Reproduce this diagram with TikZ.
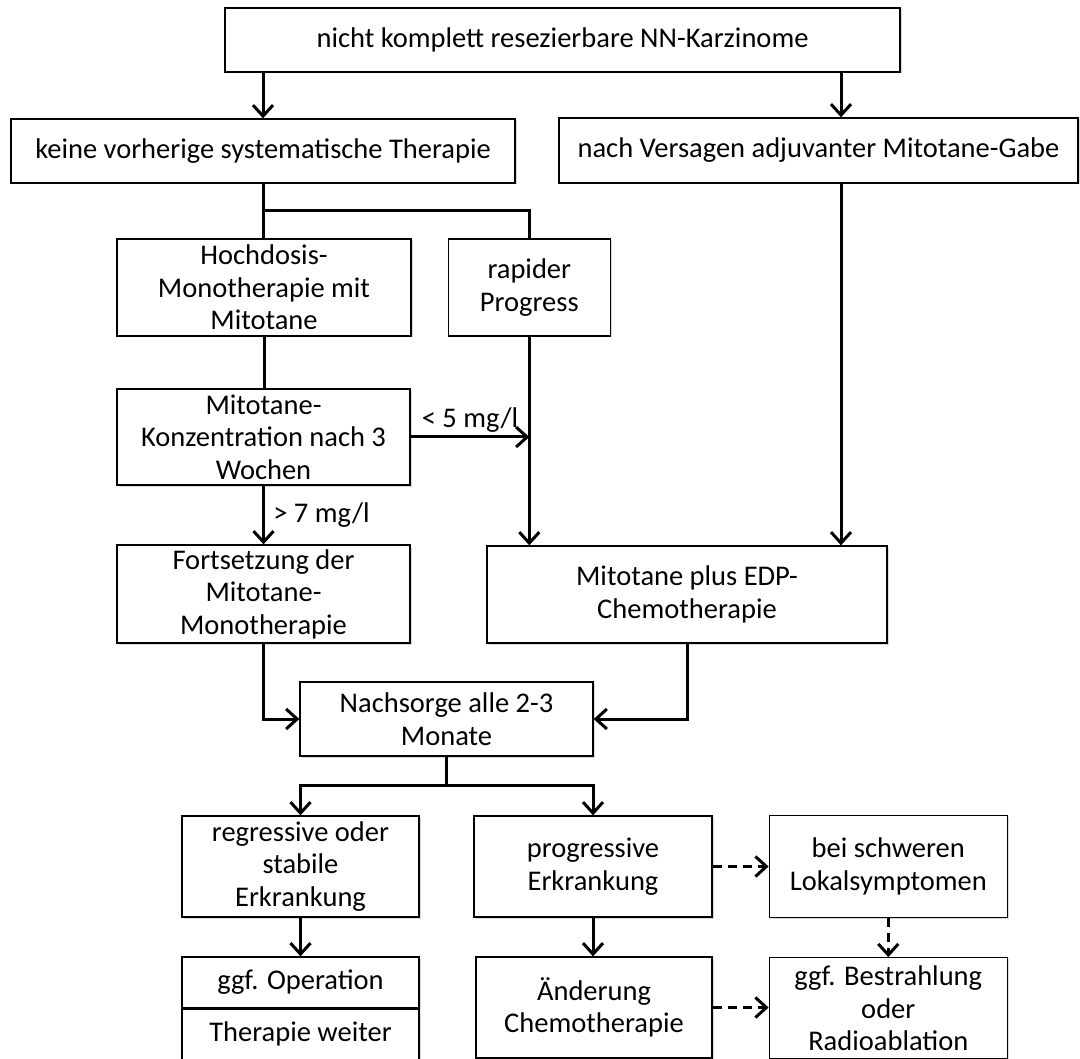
\documentclass[tikz,border=0pt]{standalone}
\usepackage{fontspec}
\setmainfont{Carlito}
\usetikzlibrary{positioning,arrows.meta,shadows}

\begin{document}
\begin{tikzpicture}
    [x=1pt,y=-1pt,font=\fontsize{28.5}{32.5}\selectfont,
     box/.style={rectangle,draw,line width=1.3pt,fill=white,align=center,inner sep=0pt,
        drop shadow={shadow xshift=1.5pt,shadow yshift=-1.5pt,opacity=0.3}},
     conn/.style={line width=3pt},
     arr/.style={conn,-{Straight Barb[length=11pt,width=20pt]}},
     darr/.style={arr,dash pattern=on 9pt off 6pt}]
    \useasboundingbox (0,0) rectangle (1080,1059);
    \node[box,minimum width=675pt,minimum height=64pt] (nn) at (562.5,40) {nicht komplett resezierbare NN-Karzinome};
    \node[box,minimum width=504pt,minimum height=64pt] (keine) at (263,151) {keine vorherige systematische Therapie};
    \node[box,minimum width=519pt,minimum height=65pt] (nach) at (818.5,150.5) {nach Versagen adjuvanter Mitotane-Gabe};
    \node[box,minimum width=294pt,minimum height=97pt] (hoch) at (264,287.5) {Hochdosis-\\Monotherapie mit\\Mitotane};
    \node[box,minimum width=162pt,minimum height=97pt] (rapid) [right=36pt of hoch] {rapider\\Progress};
    \node[box,minimum width=293pt,minimum height=96pt] (konz) at (263.5,437) {Mitotane-\\Konzentration nach 3\\Wochen};
    \node[box,minimum width=293pt,minimum height=98pt] (fort) at (263.5,594) {Fortsetzung der\\Mitotane-\\Monotherapie};
    \node[box,minimum width=400pt,minimum height=97pt] (edp) at (687,594.5) {Mitotane plus EDP-\\Chemotherapie};
    \node[box,minimum width=293pt,minimum height=74pt] (nachs) at (446.5,719) {Nachsorge alle 2-3\\Monate};
    \node[box,minimum width=237pt,minimum height=101pt] (regr) at (300.5,866.5) {regressive oder\\stabile\\Erkrankung};
    \node[box,minimum width=238pt,minimum height=101pt] (progr) at (593,866.5) {progressive\\Erkrankung};
    \node[box,minimum width=238pt,minimum height=102pt] (lokal) [right=56pt of progr] {bei schweren\\Lokalsymptomen};
    \node[box,minimum width=237pt,minimum height=51pt] (op) at (300.5,982.5) {ggf. Operation};
    \node[box,minimum width=237pt,minimum height=50pt] (weiter) [below=0pt of op] {Therapie weiter};
    \node[box,minimum width=236pt,minimum height=101pt] (chemo) at (594,1007.5) {Änderung\\Chemotherapie};
    \node[box,minimum width=238pt,minimum height=101pt] (bestr) [below=39pt of lokal] {ggf. Bestrahlung\\oder\\Radioablation};
    \coordinate (rx) at (841,0);
    % oberer Teil
    \draw[arr] (nn.south -| keine.north) -- (keine.north);
    \draw[arr] (nn.south -| rx) -- (nach.north -| rx);
    \draw[conn] (keine.south) -- ++(0,27) coordinate (fork) -| (rapid.north);
    \draw[conn] (fork) -- (fork |- hoch.north);
    \draw[conn] (hoch.south) -- (hoch.south |- konz.north);
    \draw[arr] (konz.east) -- (konz.east -| rapid.south) node[midway,above] {< 5 mg/l};
    \draw[arr] (rapid.south) -- (rapid.south |- edp.north);
    \draw[arr] (nach.south -| rx) -- (edp.north -| rx);
    \draw[arr] (konz.south) -- (konz.south |- fort.north) node[midway,right,xshift=5pt] {> 7 mg/l};
    % Nachsorge
    \draw[arr] (fort.south) |- (nachs.west);
    \draw[arr] (edp.south) |- (nachs.east);
    \draw[conn] (nachs.south) -- ++(0,29) coordinate (split);
    \draw[arr] (split) -| (regr.north);
    \draw[arr] (split) -| (progr.north);
    % unterer Teil
    \draw[arr] (regr.south) -- (op.north);
    \draw[arr] (progr.south) -- (progr.south |- chemo.north);
    \draw[darr] (progr.east) -- (lokal.west);
    \draw[darr] (lokal.south) -- (bestr.north);
    \draw[darr] (chemo.east) -- (chemo.east -| bestr.west);
\end{tikzpicture}
\end{document}
